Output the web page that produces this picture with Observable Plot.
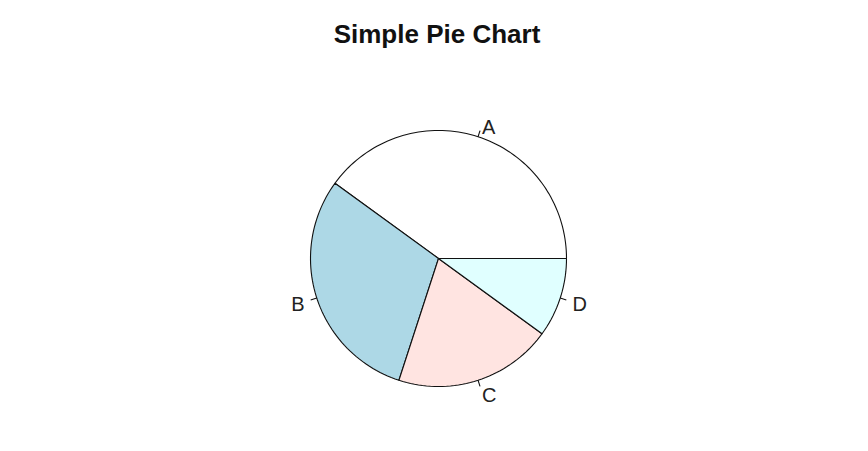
<!DOCTYPE html>
<html><head><meta charset="utf-8">
<script src="https://cdn.jsdelivr.net/npm/d3@7"></script>
<script src="https://cdn.jsdelivr.net/npm/@observablehq/plot@0.6"></script>
<style>
body{margin:0;background:#fff;font-family:Arial,"Liberation Sans",sans-serif}
#title{height:60px;width:868px;text-align:center;font-weight:bold;font-size:26px;line-height:26px;box-sizing:border-box;color:#111}
#title span{display:inline-block;margin-top:21px;margin-left:6px}
</style></head><body>
<div id="title"><span>Simple Pie Chart</span></div>
<div id="chart"></div>
<script>
const categories = ["A", "B", "C", "D"];
const values = [40, 30, 20, 10];
const colors = ["white", "lightblue", "mistyrose", "lightcyan"];

const total = d3.sum(values);
const cum = [0, ...d3.cumsum(values).map(v => v / total)];

const slices = [];
const ticks = [];
const labels = [];
categories.forEach((cat, i) => {
  const t0 = cum[i], t1 = cum[i + 1];
  const n = Math.max(2, Math.floor(200 * (t1 - t0)));
  const pts = [{x: 0, y: 0}];
  for (let k = 0; k <= n; k++) {
    const a = 2 * Math.PI * (t0 + (t1 - t0) * k / n);
    pts.push({x: Math.cos(a), y: Math.sin(a)});
  }
  slices.push({cat, fill: colors[i], pts});
  const am = 2 * Math.PI * (t0 + t1) / 2;
  const c = Math.cos(am), s = Math.sin(am);
  ticks.push({x1: c, y1: s, x2: 1.05 * c, y2: 1.05 * s});
  labels.push({cat, x: 1.1 * c, y: 1.1 * s, anchor: c > 0 ? "start" : "end"});
});

const W = 868, H = 391, R = 128, cx = 438, cy = 198;
const chart = Plot.plot({
  width: W, height: H,
  margin: 0,
  x: {domain: [-cx / R, (W - cx) / R], range: [0, W], axis: null},
  y: {domain: [-(H - cy) / R, cy / R], range: [H, 0], axis: null},
  style: {fontFamily: "Arial, 'Liberation Sans', sans-serif", background: "white"},
  marks: [
    ...slices.map(sl => Plot.line(sl.pts, {x: "x", y: "y", fill: sl.fill, stroke: "#111", strokeWidth: 1.1, curve: "linear-closed"})),
    Plot.link(ticks, {x1: "x1", y1: "y1", x2: "x2", y2: "y2", stroke: "#111", strokeWidth: 1.1}),
    Plot.text(labels.filter(d => d.anchor === "start"), {x: "x", y: "y", text: "cat", textAnchor: "start", lineAnchor: "middle", dy: 3, fontSize: 20, fill: "#222"}),
    Plot.text(labels.filter(d => d.anchor === "end"), {x: "x", y: "y", text: "cat", textAnchor: "end", lineAnchor: "middle", dy: 3, fontSize: 20, fill: "#222"})
  ]
});
document.getElementById("chart").appendChild(chart);
</script>
</body></html>
